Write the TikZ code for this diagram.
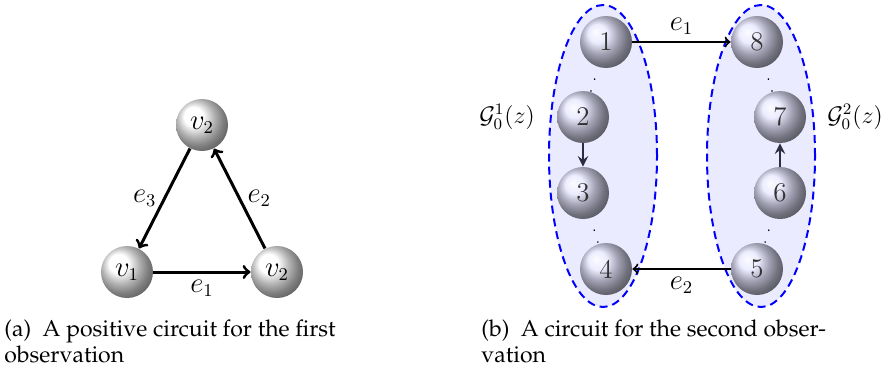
\documentclass[tikz,border=0pt]{standalone}
\usepackage{amsmath}
\usepackage[T1,TU]{fontenc}
\definecolor{slatearrow}{RGB}{45,45,65}
\begin{document}
\begin{tikzpicture}[x=0.5pt,y=0.5pt,>=to,line join=round,
	ball/.style={circle,ball color=white,minimum size=26pt,inner sep=0pt,font=\fontsize{13.5}{16}\selectfont},
	bball/.style={ball,ball color=blue!10!white,text=black!80},
	dotsep/.style={line width=0.9pt,line cap=round,dash pattern=on 0.01pt off 6.2pt,shorten <=6.2pt},
	group/.style={fill=blue!8,draw=blue,line width=1pt,dash pattern=on 4pt off 2.5pt},
	caption/.style={align=left,inner sep=0pt,font=\fontsize{11.5}{13}\fontencoding{T1}\fontfamily{ppl}\selectfont},
	lab/.style={font=\fontsize{13.5}{16}\selectfont}]
	\useasboundingbox (0,0) rectangle (888,371);
	
	% (a) positive circuit
	\node[ball] (t) at (202,246) {$v_2$};
	\node[ball] (a) at (127,99) {$v_1$};
	\node[ball] (b) at (277,99) {$v_2$};
	\draw[->,line width=1.5pt] (a)--(b) node[midway,below,lab]{$e_1$};
	\draw[->,line width=1.5pt] (b)--(t) node[midway,right,lab]{$e_2$};
	\draw[->,line width=1.5pt] (t)--(a) node[midway,left,lab]{$e_3$};
	
	% (b) two groups
	\path[group] (603,215) ellipse [x radius=54,y radius=151];
	\path[group] (761,215) ellipse [x radius=54,y radius=151];
	
	\node[bball] (n1) at (606,329) {1};
	\node[bball] (n2) at (583,254) {2};
	\node[bball] (n3) at (583,178) {3};
	\node[bball] (n4) at (606,102) {4};
	\node[bball] (n8) at (757,329) {8};
	\node[bball] (n7) at (780,254) {7};
	\node[bball] (n6) at (780,178) {6};
	\node[bball] (n5) at (757,102) {5};
	
	\draw[dotsep] (n1)--(n2);
	\draw[dotsep] (n3)--(n4);
	\draw[dotsep] (n8)--(n7);
	\draw[dotsep] (n6)--(n5);
	\draw[->,>=stealth,line width=1.3pt,slatearrow] (n2)--(n3);
	\draw[->,>=stealth,line width=1.3pt,slatearrow] (n6)--(n7);
	
	\draw[->,line width=1pt] (n1)--(n8) node[midway,above,lab]{$e_1$};
	\draw[->,line width=1pt] (n5)--(n4) node[midway,below,lab]{$e_2$};
	
	\node[font=\fontsize{12}{14}\selectfont] (g1) at (507,254) {$\mathcal{G}_0^1(z)$};
	\node[font=\fontsize{12}{14}\selectfont] (g2) at (855,254) {$\mathcal{G}_0^2(z)$};
	
	% captions
	\node[caption,anchor=north west] (capa) at (4,52) {(a)\enspace A positive circuit for the first\\observation};
	\node[caption,anchor=north west] (capb) at (481,52) {(b)\enspace A circuit for the second obser-\\vation};
\end{tikzpicture}
\end{document}
